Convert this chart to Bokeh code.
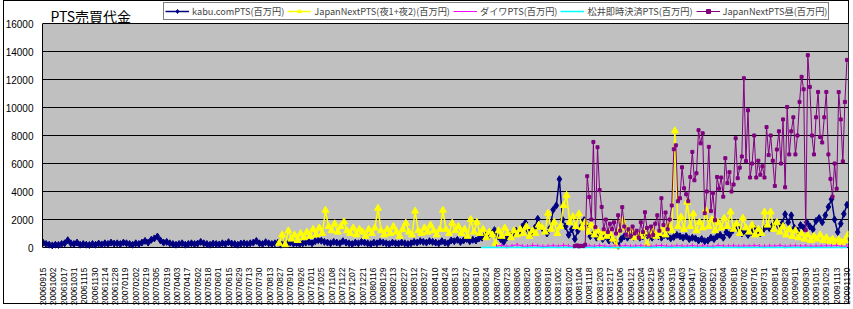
import math
from bokeh.plotting import figure
from bokeh.models import (FixedTicker, Legend, LegendItem, Label, BoxAnnotation, Range1d)
from bokeh.embed import file_html
from bokeh.resources import INLINE

# ---------------- data ----------------
n_days = 782  # trading days on the category axis
tick_every = 10
tick_labels = [
    "20060915", "20061002", "20061017", "20061031", "20061115", "20061130", "20061214", "20061228",
    "20070119", "20070202", "20070219", "20070305", "20070319", "20070403", "20070417", "20070502",
    "20070518", "20070601", "20070615", "20070629", "20070713", "20070730", "20070813", "20070827",
    "20070910", "20070926", "20071011", "20071025", "20071108", "20071122", "20071207", "20071221",
    "20080116", "20080129", "20080213", "20080227", "20080312", "20080327", "20080410", "20080424",
    "20080513", "20080527", "20080610", "20080624", "20080708", "20080723", "20080806", "20080820",
    "20080903", "20080918", "20081002", "20081020", "20081104", "20081118", "20081203", "20081217",
    "20090106", "20090121", "20090204", "20090219", "20090305", "20090319", "20090403", "20090417",
    "20090507", "20090521", "20090604", "20090618", "20090702", "20090716", "20090731", "20090814",
    "20090828", "20090911", "20090930", "20091015", "20091029", "20091113", "20091130",
]

# kabu.comPTS (百万円): every 3rd trading day from day 0
kabu_start, kabu_step = 0, 3
kabu = [
    350, 250, 200, 150, 200, 180, 250, 300, 520, 300,
    250, 350, 200, 250, 200, 180, 250, 200, 280, 220,
    300, 250, 350, 280, 300, 250, 350, 300, 250, 200,
    300, 250, 350, 470, 350, 550, 650, 780, 500, 350,
    400, 300, 250, 200, 250, 300, 200, 250, 300, 250,
    280, 400, 300, 250, 200, 280, 250, 220, 300, 250,
    380, 280, 250, 200, 280, 300, 250, 300, 350, 470,
    300, 250, 380, 300, 250, 300, 350, 200, 300, 250,
    350, 280, 300, 250, 300, 350, 400, 300, 450, 520,
    480, 400, 350, 300, 400, 350, 300, 450, 350, 300,
    250, 350, 300, 400, 350, 300, 250, 350, 300, 400,
    350, 300, 250, 350, 300, 280, 350, 300, 250, 300,
    400, 350, 450, 400, 350, 450, 400, 350, 300, 450,
    350, 300, 500, 450, 550, 400, 500, 600, 450, 550,
    500, 650, 700, 900, 800, 1000, 1240, 800, 600, 400,
    700, 900, 1000, 1200, 1000, 1500, 1760, 1200, 1000, 1400,
    2050, 1500, 1200, 1000, 1400, 2700, 3000, 4880, 2000, 1500,
    900, 1300, 600, 1200, 1500, 1950, 1600, 800, 1000, 700,
    900, 600, 800, 500, 700, 400, 100, 600, 800, 700,
    900, 750, 850, 700, 800, 900, 750, 700, 850, 800,
    700, 900, 800, 650, 750, 900, 800, 700, 800, 600,
    700, 650, 500, 600, 450, 500, 700, 600, 800, 900,
    700, 1100, 900, 1200, 1500, 1300, 1000, 1200, 900, 1100,
    1400, 1200, 1000, 1300, 1500, 1350, 1600, 1800, 1500, 1700,
    2380, 1800, 2300, 1400, 1200, 1600, 1400, 1800, 1500, 1300,
    1900, 2100, 1800, 2300, 2900, 3450, 2000, 1100, 1700, 2400,
    3050,
]

# JapanNextPTS(夜1+夜2) (百万円): every 3rd trading day from day 229
jnx_night_start, jnx_night_step = 229, 3
jnx_night = [
    300, 900, 200, 1190, 600, 900, 500, 1000, 700, 1100,
    800, 1300, 900, 1400, 1000, 2660, 1500, 1200, 1700, 1100,
    1500, 1830, 1200, 1000, 1400, 900, 1300, 1100, 800, 1300,
    1000, 1400, 2800, 1200, 900, 1300, 1000, 1500, 1100, 800,
    1300, 1740, 1100, 900, 2600, 1200, 1000, 1400, 1100, 1600,
    1200, 900, 1300, 2660, 1300, 1000, 1740, 1200, 1500, 1000,
    1300, 800, 2000, 1100, 1800, 1000, 1300, 700, 1100, 900,
    300, 1200, 800, 1400, 1000, 700, 1200, 900, 1300, 1000,
    1500, 800, 1200, 1000, 1600, 1450, 1100, 2450, 1300, 1800,
    1000, 1500, 3000, 3730, 1800, 2200, 1500, 2400, 1400, 1800,
    1100, 1600, 900, 1200, 700, 1100, 800, 1000, 600, 100,
    1200, 1950, 1400, 900, 1200, 700, 1000, 800, 1100, 200,
    900, 1200, 800, 1000, 1300, 900, 1600, 1200, 8330, 1500,
    2170, 1300, 3240, 1500, 2400, 1200, 1800, 1400, 2650, 1500,
    2000, 1200, 1800, 1400, 2100, 1500, 2540, 1300, 1700, 1000,
    2100, 1400, 1100, 1600, 900, 1300, 1000, 2540, 1600, 2540,
    1300, 1800, 1100, 1500, 900, 1300, 800, 1200, 700, 1000,
    600, 900, 500, 800, 600, 900, 500, 700, 450, 600,
    400, 550, 350, 500, 900,
]

# ダイワPTS (百万円): every 5th trading day from day 440
daiwa_start, daiwa_step = 440, 5
daiwa = [
    100, 150, 80, 120, 200, 100, 90, 150, 120, 80,
    100, 130, 90, 160, 110, 80, 140, 100, 120, 90,
    150, 100, 80, 120, 100, 140, 90, 110, 130, 100,
    80, 120, 150, 100, 90, 130, 110, 100, 140, 90,
    120, 100, 80, 150, 110, 100, 130, 90, 120, 100,
    140, 110, 90, 120, 100, 150, 80, 110, 130, 100,
    120, 90, 110, 100, 130, 100, 150, 80, 100,
]

# 松井即時決済PTS (百万円): every 5th trading day from day 425
matsui_start, matsui_step = 425, 5
matsui = [
    0, 0, 0, 0, 0, 0, 0, 0, 0, 0,
    0, 0, 0, 0, 0, 0, 0, 0, 0, 0,
    0, 0, 0, 0, 0, 0, 0, 0, 0, 0,
    0, 0, 0, 0, 0, 0, 0, 0, 0, 0,
    0, 0, 0, 0, 0, 0, 0, 0, 0, 0,
    0, 0, 0, 0, 0, 0, 0, 0, 0, 0,
    0, 0, 0, 0, 0, 0, 0, 0, 0, 0,
    0, 0,
]

# JapanNextPTS昼 (百万円): every 2nd trading day from day 516
jnx_day_start, jnx_day_step = 516, 2
jnx_day = [
    100, 150, 80, 120, 100, 200, 5090, 3600, 2000, 7540,
    1450, 7160, 4100, 2900, 1300, 2000, 1100, 1700, 1300, 1800,
    1000, 2300, 1200, 2880, 1500, 900, 1300, 800, 1500, 1000,
    1200, 700, 1800, 1100, 2520, 1400, 800, 1500, 900, 1700,
    2300, 1200, 3520, 1600, 2500, 1300, 2000, 3000, 7020, 7300,
    3300, 3520, 5730, 4230, 3800, 3300, 5040, 6830, 4800, 5300,
    8380, 7440, 8160, 2450, 4000, 7190, 2600, 3900, 1950, 5040,
    4200, 5000, 3630, 6380, 4600, 5380, 4000, 4500, 7800, 4950,
    5700, 6500, 12090, 6170, 9800, 5000, 6000, 8000, 5000, 6200,
    5200, 5800, 5000, 8600, 6600, 8000, 6200, 4400, 7000, 8300,
    6000, 9150, 4300, 10040, 6650, 8300, 9300, 6650, 8000, 10400,
    12190, 11300, 1240, 13740, 11470, 8000, 6650, 9300, 11110, 7900,
    7500, 9300, 11110, 6650, 4900, 3630, 6000, 4200, 11100, 9150,
    6150, 10400, 13400,
]

y_ticks = [0, 2000, 4000, 6000, 8000, 10000, 12000, 14000, 16000]
y_max = 16000

series_labels = [
    "kabu.comPTS(百万円)",
    "JapanNextPTS(夜1+夜2)(百万円)",
    "ダイワPTS(百万円)",
    "松井即時決済PTS(百万円)",
    "JapanNextPTS昼(百万円)",
]
chart_title = "PTS売買代金"


def day_index(start, step, vals):
    return [start + i * step for i in range(len(vals))]


# ---------------- layout (pixels) ----------------
W, H = 853, 309
LEFT, RIGHT = 42, 848            # plot area left / right edge
PLOT_TOP, PLOT_BOTTOM = 23, 247  # grey plot area top / bottom edge (0 .. 16000)
FRAME_TOP, FRAME_BOTTOM = 0, 249 # frame extended so header and zero line sit inside it

x0, x1 = -0.5, n_days - 0.5
px_per_unit_y = (PLOT_BOTTOM - PLOT_TOP) / y_max
y_top = y_max + (PLOT_TOP - FRAME_TOP) / px_per_unit_y
y_bottom = -(FRAME_BOTTOM - PLOT_BOTTOM) / px_per_unit_y


def px_to_x(px):
    return x0 + (px - LEFT) * (x1 - x0) / (RIGHT - LEFT)


def px_to_y(py):
    return (PLOT_BOTTOM - py) / px_per_unit_y


p = figure(width=W, height=H, output_backend="svg", toolbar_location=None,
           title=None,
           x_range=Range1d(x0, x1), y_range=Range1d(y_bottom, y_top),
           min_border_left=LEFT, min_border_right=W - RIGHT,
           min_border_top=FRAME_TOP, min_border_bottom=H - FRAME_BOTTOM)
p.background_fill_alpha = 0
p.border_fill_alpha = 0
p.outline_line_color = None
# white page with the chart-area frame lines drawn behind the transparent canvas
p.styles = {
    "background-color": "white",
    "background-image": ("linear-gradient(#000,#000),linear-gradient(#000,#000),"
                         "linear-gradient(#000,#000),linear-gradient(#000,#000)"),
    "background-size": "1px 304px, 1px 304px, 846px 1px, 846px 1px",
    "background-position": "3px 0px, 848px 0px, 3px 0px, 3px 303px",
    "background-repeat": "no-repeat",
}

# grey plot area
p.add_layout(BoxAnnotation(left=x0, right=x1, bottom=0, top=y_max,
                           fill_color="#C0C0C0", fill_alpha=1.0, line_color=None,
                           level="image"))

# axes
p.yaxis.ticker = FixedTicker(ticks=y_ticks)
p.yaxis.bounds = (0, y_max)
p.yaxis.major_label_text_font = "Liberation Sans"
p.yaxis.major_label_text_font_size = "10px"
p.yaxis.major_label_text_color = "black"
p.yaxis.axis_line_color = "black"
p.yaxis.major_tick_out = 0
p.yaxis.major_tick_in = 0
p.yaxis.minor_tick_line_color = None
p.yaxis.major_label_standoff = 9

tick_pos = [i * tick_every for i in range(len(tick_labels))]
p.xaxis.ticker = FixedTicker(ticks=tick_pos)
p.xaxis.major_label_overrides = {t: lab for t, lab in zip(tick_pos, tick_labels)}
p.xaxis.major_label_orientation = math.pi / 2
p.xaxis.major_label_text_font = "Liberation Sans"
p.xaxis.major_label_text_font_size = "8.5px"
p.xaxis.major_label_text_color = "black"
p.xaxis.axis_line_color = None
p.xaxis.major_tick_line_color = None
p.xaxis.major_tick_out = 0
p.xaxis.major_tick_in = 0
p.xaxis.minor_tick_line_color = None
p.xaxis.major_label_standoff = 18

p.ygrid.grid_line_color = "black"
p.ygrid.grid_line_width = 1
p.xgrid.grid_line_color = None

# series (Excel order: later series drawn on top)
NAVY, YEL, MAG, CYA, PUR = "#000080", "#FFFF00", "#FF00FF", "#00FFFF", "#800080"

kx = day_index(kabu_start, kabu_step, kabu)
r_k_l = p.line(kx, kabu, line_color=NAVY, line_width=1.5)
r_k_m = p.scatter(kx, kabu, marker="diamond", size=7, fill_color=NAVY, line_color=NAVY)

yx = day_index(jnx_night_start, jnx_night_step, jnx_night)
r_y_l = p.line(yx, jnx_night, line_color=YEL, line_width=1.5)
r_y_m = p.scatter(yx, jnx_night, marker="triangle", size=7, fill_color=YEL, line_color=YEL)

dx = day_index(daiwa_start, daiwa_step, daiwa)
r_d_l = p.line(dx, daiwa, line_color=MAG, line_width=1)
p.scatter(dx, daiwa, marker="dash", angle=math.pi / 2, size=4, line_color=MAG)

mx = day_index(matsui_start, matsui_step, matsui)
r_m_l = p.line(mx, matsui, line_color=CYA, line_width=1.5)

px_ = day_index(jnx_day_start, jnx_day_step, jnx_day)
r_p_l = p.line(px_, jnx_day, line_color=PUR, line_width=1)
r_p_m = p.scatter(px_, jnx_day, marker="square", size=3, fill_color=PUR, line_color=PUR)

legend = Legend(items=[
    LegendItem(label=series_labels[0], renderers=[r_k_l, r_k_m]),
    LegendItem(label=series_labels[1], renderers=[r_y_l, r_y_m]),
    LegendItem(label=series_labels[2], renderers=[r_d_l]),
    LegendItem(label=series_labels[3], renderers=[r_m_l]),
    LegendItem(label=series_labels[4], renderers=[r_p_l, r_p_m]),
], orientation="horizontal", location=(163 - LEFT, FRAME_BOTTOM - 19.5),
    border_line_color="black", border_line_width=1,
    background_fill_color="white", background_fill_alpha=1.0,
    label_text_font="Noto Sans CJK JP", label_text_font_size="9.2px",
    label_text_line_height=1.0,
    glyph_width=24, glyph_height=10, label_height=10, label_standoff=3,
    spacing=3, padding=1, margin=0)
p.add_layout(legend, "center")

# title
p.add_layout(Label(x=px_to_x(50), y=px_to_y(15.5), text=chart_title,
                   text_font="Noto Sans CJK JP", text_font_size="14px",
                   text_color="black", text_baseline="middle"))

open("out.html", "w").write(file_html(p, INLINE))
